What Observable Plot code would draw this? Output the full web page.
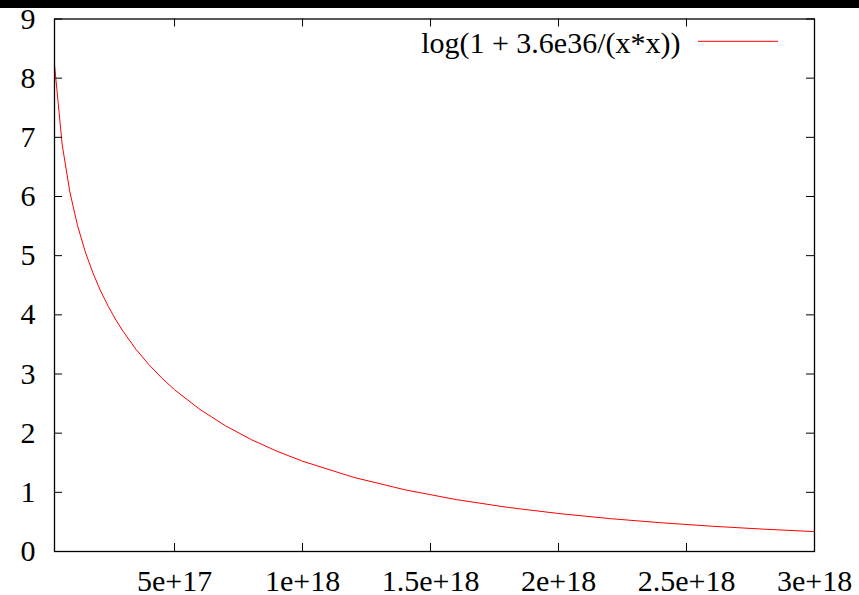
<!DOCTYPE html>
<html>
<head>
<meta charset="utf-8">
<script src="https://cdn.jsdelivr.net/npm/d3@7"></script>
<script src="https://cdn.jsdelivr.net/npm/@observablehq/plot@0.6"></script>
<style>
  html, body { margin: 0; padding: 0; background: white; }
</style>
</head>
<body>
<div id="chart"></div>
<script>
const xValues = [3.1e16, 6.1e16, 9.1e16, 1.21e17, 1.51e17, 1.81e17, 2.11e17, 2.41e17, 2.71e17, 3.01e17,
  3.5e17, 4e17, 4.5e17, 5e17, 6e17, 7e17, 8e17, 9e17, 1e18, 1.2e18, 1.4e18, 1.6e18, 1.8e18,
  2e18, 2.2e18, 2.4e18, 2.6e18, 2.8e18, 3e18];
const yValues = [8.229, 6.876, 6.077, 5.509, 5.068, 4.709, 4.405, 4.143, 3.912, 3.707,
  3.414, 3.157, 2.933, 2.734, 2.398, 2.122, 1.891, 1.695, 1.526, 1.253, 1.043, 0.878, 0.747,
  0.642, 0.556, 0.486, 0.427, 0.378, 0.336];
const xTicks = [5e17, 1e18, 1.5e18, 2e18, 2.5e18, 3e18];
const xTickLabels = ["5e+17", "1e+18", "1.5e+18", "2e+18", "2.5e+18", "3e+18"];
const yTicks = [0, 1, 2, 3, 4, 5, 6, 7, 8, 9];
const seriesName = "log(1 + 3.6e36/(x*x))";

const data = xValues.map((x, i) => ({x, y: yValues[i]}));

const W = 859, H = 595, mt = 18.5, mb = 44, ml = 54, mr = 45;
const fw = W - ml - mr, fh = H - mt - mb, tk = 8;

const topBar = (index, scales, values, dims) => {
  const g = d3.create("svg:g");
  g.append("rect").attr("x", 0).attr("y", 0).attr("width", dims.width).attr("height", 8).attr("fill", "black");
  return g.node();
};

const legendLine = (index, scales, values, dims) => {
  const g = d3.create("svg:g");
  const right = dims.width - dims.marginRight;
  const top = dims.marginTop;
  g.append("line")
    .attr("x1", right - 116).attr("x2", right - 36)
    .attr("y1", top + 22.8).attr("y2", top + 22.8)
    .attr("stroke", "red").attr("stroke-width", 1);
  return g.node();
};

const chart = Plot.plot({
  width: W, height: H,
  marginTop: mt, marginBottom: mb, marginLeft: ml, marginRight: mr,
  style: {fontFamily: "'Liberation Serif', 'DejaVu Serif', serif", fontSize: "30px", background: "white", color: "black"},
  x: {domain: [3.1e16, 3e18], ticks: xTicks, tickFormat: d => xTickLabels[xTicks.indexOf(d)], tickSize: 0, tickPadding: 18.5, label: null},
  y: {domain: [0, 9], ticks: yTicks, tickSize: 0, tickPadding: 19, label: null},
  marks: [
    topBar,
    Plot.line(data, {x: "x", y: "y", stroke: "red", strokeWidth: 1}),
    Plot.tickX(xTicks, {x: d => d, insetTop: fh - tk, stroke: "black", strokeWidth: 1}),
    Plot.tickX(xTicks, {x: d => d, insetBottom: fh - tk, stroke: "black", strokeWidth: 1}),
    Plot.tickY(yTicks, {y: d => d, insetRight: fw - tk, stroke: "black", strokeWidth: 1}),
    Plot.tickY(yTicks, {y: d => d, insetLeft: fw - tk, stroke: "black", strokeWidth: 1}),
    Plot.frame({stroke: "black", strokeWidth: 1.3}),
    Plot.text([seriesName], {text: d => d, frameAnchor: "top-right", lineAnchor: "middle", dx: -134, dy: 24, textAnchor: "end", fontSize: 30, fill: "black"}),
    legendLine
  ]
});
document.getElementById("chart").appendChild(chart);
</script>
</body>
</html>
